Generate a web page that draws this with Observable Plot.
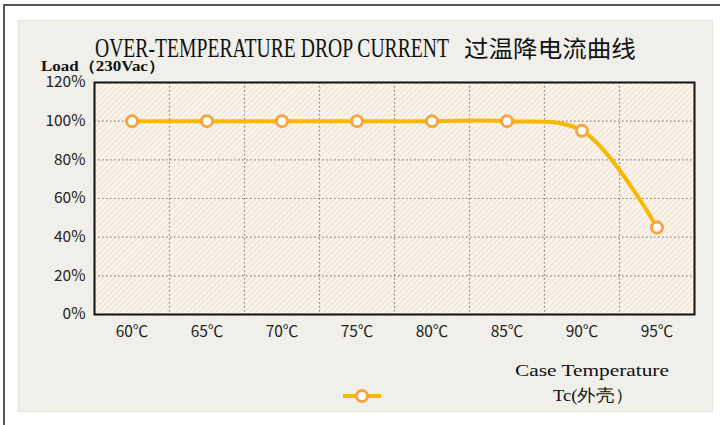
<!DOCTYPE html>
<html>
<head>
<meta charset="utf-8">
<script src="https://cdn.jsdelivr.net/npm/d3@7"></script>
<script src="https://cdn.jsdelivr.net/npm/@observablehq/plot@0.6"></script>
<style>
  html, body { margin: 0; padding: 0; background: #ffffff; width: 720px; height: 425px; overflow: hidden; }
  #outer { position: absolute; left: 3px; top: 4px; width: 717px; height: 421px; border-top: 2px solid #555; border-left: 2px solid #555; box-sizing: border-box; }
  #panel { position: absolute; left: 18px; top: 20px; width: 695px; height: 392px; background: #f0efea; border: 1px solid #e3e3df; box-sizing: border-box; }
  #chart { position: absolute; left: 0; top: 0; }
  #legend { position: absolute; left: 340px; top: 386px; }
</style>
</head>
<body>
<div id="outer"></div>
<div id="panel"></div>
<div id="chart"></div>
<svg id="legend" width="44" height="20"></svg>
<script>
// ---- data ----
const temps = [60, 65, 70, 75, 80, 85, 90, 95];
const loads = [100, 100, 100, 100, 100, 100, 95, 45];
const yTicks = [0, 20, 40, 60, 80, 100, 120];
const titleEn = "OVER-TEMPERATURE DROP CURRENT";
const titleZh = "过温降电流曲线";
const yLabel = "Load（230Vac）";
const xLabel1 = "Case Temperature";
const xLabel2 = "Tc(外壳）";

const data = temps.map((t, i) => ({ t, v: loads[i] }));
const step = temps[1] - temps[0];
const xGrid = temps.slice(0, -1).map(t => t + step / 2);
const yGrid = yTicks.filter(v => v > 0 && v < 120);

const lineColor = "#f9b800";
const markerColor = "#f5a442";
const sans = "'Noto Sans CJK SC', sans-serif";

const chart = Plot.plot({
  width: 720,
  height: 425,
  marginLeft: 94,
  marginRight: 26,
  marginTop: 82,
  marginBottom: 111,
  style: { background: "transparent", fontFamily: sans, fontSize: "15.5px", color: "#222" },
  x: { domain: [temps[0] - step / 2, temps[temps.length - 1] + step / 2], ticks: temps, tickFormat: d => d + "℃", tickSize: 0, tickPadding: 11, label: null },
  y: { domain: [0, 120], ticks: yTicks, tickFormat: d => d + "%", tickSize: 0, tickPadding: 9, label: null },
  marks: [
    Plot.frame({ fill: "url(#hatch)", stroke: null }),
    Plot.ruleX(xGrid, { stroke: "#8a8078", strokeWidth: 1.2, strokeDasharray: "1.5,2.5" }),
    Plot.ruleY(yGrid, { stroke: "#8a8078", strokeWidth: 1.2, strokeDasharray: "1.5,2.5" }),
    Plot.frame({ stroke: "#111", strokeWidth: 2 }),
    Plot.line(data, { x: "t", y: "v", stroke: lineColor, strokeWidth: 4, curve: "catmull-rom" }),
    Plot.dot(data, { x: "t", y: "v", r: 5.5, fill: "#fff", stroke: markerColor, strokeWidth: 3 })
  ]
});

document.getElementById("chart").appendChild(chart);

const svg = d3.select(chart);
const defs = svg.insert("defs", ":first-child");
const pat = defs.append("pattern").attr("id", "hatch").attr("patternUnits", "userSpaceOnUse")
  .attr("width", 4).attr("height", 4).attr("patternTransform", "rotate(-45)");
pat.append("rect").attr("width", 4).attr("height", 4).attr("fill", "#fbf5ec");
pat.append("rect").attr("width", 4).attr("height", 1.3).attr("fill", "#efe3d2");

// text fitted to a target width by horizontal scaling
function addText(txt, x, y, size, font, len, weight) {
  const t = svg.append("text").attr("x", 0).attr("y", 0).attr("text-anchor", "start")
    .attr("font-family", font).attr("font-size", size).attr("fill", "#111").text(txt);
  if (weight) t.attr("font-weight", weight);
  const w = t.node().getComputedTextLength() || len;
  t.attr("transform", `translate(${x},${y}) scale(${len / w},1)`);
  return t;
}
const serif = "'Liberation Serif', serif";
addText(titleEn, 95, 57, 27, serif, 354);
addText(titleZh, 464, 57, 23, sans, 172);
addText(yLabel, 41, 71, 15, serif, 124, "bold");
addText(xLabel1, 515, 376, 17, serif, 154);
addText(xLabel2, 553, 401, 17, serif, 80);

// legend (line + marker)
const lg = d3.select("#legend");
lg.append("line").attr("x1", 3).attr("x2", 41).attr("y1", 10).attr("y2", 10).attr("stroke", lineColor).attr("stroke-width", 4);
lg.append("circle").attr("cx", 22).attr("cy", 10).attr("r", 5.5).attr("fill", "#fff").attr("stroke", markerColor).attr("stroke-width", 3);
</script>
</body>
</html>
